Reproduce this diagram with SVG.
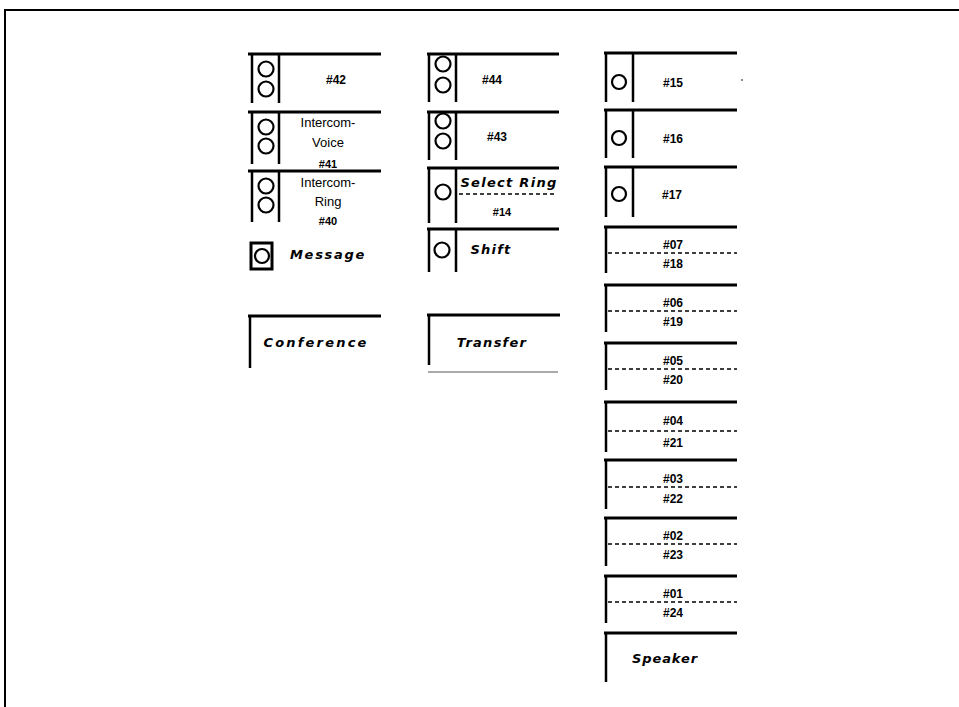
<svg xmlns="http://www.w3.org/2000/svg" width="959" height="707" viewBox="0 0 959 707">
<style>
.top{stroke:#000;stroke-width:3;fill:none}
.v{stroke:#000;stroke-width:2.5;fill:none}
.c{stroke:#000;stroke-width:2.2;fill:#fff}
.d{stroke:#000;stroke-width:1.4;stroke-dasharray:4 3;fill:none}
.n{font-family:"Liberation Sans",Arial,sans-serif;font-weight:bold;font-size:12px;text-anchor:middle;fill:#000}
.r{font-family:"Liberation Sans",Arial,sans-serif;font-size:13px;text-anchor:middle;fill:#000}
.b{font-family:"DejaVu Sans",Verdana,sans-serif;font-weight:bold;font-style:oblique;font-size:13px;letter-spacing:1.3px;text-anchor:middle;fill:#000}
</style>
<rect width="959" height="707" fill="#fff"/>
<path d="M5,707 V10 H959" stroke="#000" stroke-width="2" fill="none"/>

<!-- Column 1 -->
<g id="key42">
<path class="top" d="M248,54 H381"/><path class="v" d="M252,54 V103 M279,54 V103"/>
<circle class="c" cx="266" cy="69" r="7.5"/><circle class="c" cx="266" cy="89" r="7.5"/>
<text class="n" x="336" y="84">#42</text>
</g>
<g id="key41">
<path class="top" d="M248,112 H381"/><path class="v" d="M252,112 V164 M279,112 V164"/>
<circle class="c" cx="266" cy="127" r="7.5"/><circle class="c" cx="266" cy="146" r="7.5"/>
<text class="r" x="328" y="127">Intercom-</text>
<text class="r" x="328" y="147">Voice</text>
<text class="n" x="328" y="168" style="font-size:11px">#41</text>
</g>
<g id="key40">
<path class="top" d="M248,171 H381"/><path class="v" d="M252,171 V222 M279,171 V222"/>
<circle class="c" cx="266" cy="186" r="7.5"/><circle class="c" cx="266" cy="205" r="7.5"/>
<text class="r" x="328" y="187">Intercom-</text>
<text class="r" x="328" y="206">Ring</text>
<text class="n" x="328" y="225" style="font-size:11px">#40</text>
</g>
<g id="message">
<rect x="251" y="243" width="21" height="26" stroke="#000" stroke-width="3" fill="none"/>
<circle class="c" cx="262" cy="256" r="7"/>
<text class="b" x="328" y="259" style="letter-spacing:1.7px">Message</text>
</g>
<g id="conference">
<path class="top" d="M248,316 H381"/><path class="v" d="M250,316 V368"/>
<text class="b" x="316" y="347" style="letter-spacing:2.2px">Conference</text>
</g>

<!-- Column 2 -->
<g id="key44">
<path class="top" d="M427,54 H559"/><path class="v" d="M429,54 V102 M456,54 V102"/>
<circle class="c" cx="443" cy="64" r="7.5"/><circle class="c" cx="443" cy="85" r="7.5"/>
<text class="n" x="492" y="84">#44</text>
</g>
<g id="key43">
<path class="top" d="M427,112 H559"/><path class="v" d="M429,112 V160 M456,112 V160"/>
<circle class="c" cx="443" cy="121" r="7.5"/><circle class="c" cx="443" cy="141" r="7.5"/>
<text class="n" x="497" y="141">#43</text>
</g>
<g id="selectring">
<path class="top" d="M427,168 H559"/><path class="v" d="M429,168 V223 M456,168 V223"/>
<circle class="c" cx="443" cy="192" r="7.5"/>
<text class="b" x="509" y="187">Select Ring</text>
<path class="d" d="M459,194 H557"/>
<text class="n" x="502" y="216" style="font-size:11px">#14</text>
</g>
<g id="shift">
<path class="top" d="M427,229 H559"/><path class="v" d="M429,229 V272 M456,229 V272"/>
<circle class="c" cx="442" cy="250" r="7.5"/>
<text class="b" x="491" y="254" style="letter-spacing:1.2px">Shift</text>
</g>
<g id="transfer">
<path class="top" d="M427,315 H560"/><path class="v" d="M429,315 V365"/>
<text class="b" x="492" y="347" style="letter-spacing:1.25px">Transfer</text>
<path d="M428,372 H558" stroke="#555" stroke-width="1" fill="none"/>
</g>

<!-- Column 3 -->
<g id="key15">
<path class="top" d="M604,53 H737"/><path class="v" d="M606,53 V102 M633,53 V102"/>
<circle class="c" cx="619" cy="82" r="7"/>
<text class="n" x="673" y="87">#15</text>
<circle cx="742" cy="80" r="0.8" fill="#000"/>
</g>
<g id="key16">
<path class="top" d="M604,110 H737"/><path class="v" d="M606,110 V158 M633,110 V158"/>
<circle class="c" cx="619" cy="138" r="7"/>
<text class="n" x="673" y="143">#16</text>
</g>
<g id="key17">
<path class="top" d="M604,167 H737"/><path class="v" d="M606,167 V217 M633,167 V217"/>
<circle class="c" cx="619" cy="194" r="7"/>
<text class="n" x="672" y="199">#17</text>
</g>
<g id="key07-18">
<path class="top" d="M604,227 H737"/><path class="v" d="M606,227 V273"/>
<text class="n" x="673" y="249">#07</text><path class="d" d="M608,253 H737"/><text class="n" x="673" y="268">#18</text>
</g>
<g id="key06-19">
<path class="top" d="M604,285 H737"/><path class="v" d="M606,285 V332"/>
<text class="n" x="673" y="307">#06</text><path class="d" d="M608,311 H737"/><text class="n" x="673" y="326">#19</text>
</g>
<g id="key05-20">
<path class="top" d="M604,343 H737"/><path class="v" d="M606,343 V390"/>
<text class="n" x="673" y="365">#05</text><path class="d" d="M608,369 H737"/><text class="n" x="673" y="384">#20</text>
</g>
<g id="key04-21">
<path class="top" d="M604,402 H737"/><path class="v" d="M606,402 V452"/>
<text class="n" x="673" y="425">#04</text><path class="d" d="M608,431 H737"/><text class="n" x="673" y="447">#21</text>
</g>
<g id="key03-22">
<path class="top" d="M604,460 H737"/><path class="v" d="M606,460 V509"/>
<text class="n" x="673" y="483">#03</text><path class="d" d="M608,487 H737"/><text class="n" x="673" y="503">#22</text>
</g>
<g id="key02-23">
<path class="top" d="M604,518 H737"/><path class="v" d="M606,518 V566"/>
<text class="n" x="673" y="540">#02</text><path class="d" d="M608,544 H737"/><text class="n" x="673" y="559">#23</text>
</g>
<g id="key01-24">
<path class="top" d="M604,576 H737"/><path class="v" d="M606,576 V623"/>
<text class="n" x="673" y="598">#01</text><path class="d" d="M608,602 H737"/><text class="n" x="673" y="617">#24</text>
</g>
<g id="speaker">
<path class="top" d="M604,633 H737"/><path class="v" d="M606,633 V682"/>
<text class="b" x="665" y="663" style="letter-spacing:0.9px">Speaker</text>
</g>
<g id="connectors"/>
</svg>
